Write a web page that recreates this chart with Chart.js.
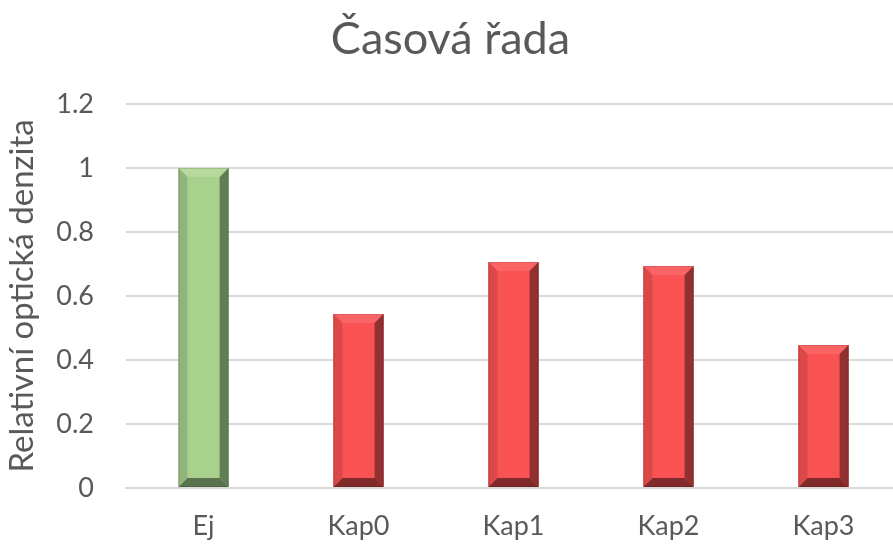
<!DOCTYPE html>
<html>
<head>
<meta charset="utf-8">
<script src="https://cdn.jsdelivr.net/npm/chart.js@4"></script>
<style>
  html, body { margin: 0; padding: 0; background: #fff; overflow: hidden; }
  #wrap { width: 906px; height: 544px; }
</style>
</head>
<body>
<div id="wrap"><canvas id="chart" width="906" height="544"></canvas></div>
<script>
const categories = ['Ej', 'Kap0', 'Kap1', 'Kap2', 'Kap3'];
const values = [1.0, 0.544, 0.706, 0.694, 0.447];
const yTicks = [0, 0.2, 0.4, 0.6, 0.8, 1, 1.2];

const green = { face: '#a9d18e', left: '#92b47c', right: '#617d53', top: '#b6da9c', bottom: '#58734c' };
const red = { face: '#f85252', left: '#da4848', right: '#903030', top: '#fa6464', bottom: '#812a2a' };
const palette = categories.map((c, i) => i === 0 ? green : red);

// bevel look like the office chart
const bevelPlugin = {
    id: 'bevel',
    afterDatasetsDraw(chart) {
        const ctx = chart.ctx;
        const meta = chart.getDatasetMeta(0);
        meta.data.forEach((bar, i) => {
            const p = palette[i];
            const l = bar.x - bar.width / 2, r = bar.x + bar.width / 2;
            const t = bar.y, b = bar.base;
            const d = 9;
            const poly = (pts, col) => {
                ctx.beginPath();
                ctx.moveTo(pts[0][0], pts[0][1]);
                pts.slice(1).forEach(q => ctx.lineTo(q[0], q[1]));
                ctx.closePath();
                ctx.fillStyle = col;
                ctx.fill();
            };
            ctx.save();
            poly([[l, t], [r, t], [r - d, t + d], [l + d, t + d]], p.top);
            poly([[l, b], [r, b], [r - d, b - d], [l + d, b - d]], p.bottom);
            poly([[l, t], [l + d, t + d], [l + d, b - d], [l, b]], p.left);
            poly([[r, t], [r - d, t + d], [r - d, b - d], [r, b]], p.right);
            ctx.strokeStyle = 'rgba(0,0,0,0.12)';
            ctx.lineWidth = 1;
            ctx.strokeRect(l + 0.5, t + 0.5, bar.width - 1, b - t - 1);
            ctx.restore();
        });
    }
};

new Chart(document.getElementById('chart'), {
    type: 'bar',
    data: {
        labels: categories,
        datasets: [{
            data: values,
            backgroundColor: palette.map(p => p.face),
            borderWidth: 0,
            barPercentage: 0.54,
            categoryPercentage: 0.6
        }]
    },
    options: {
        responsive: false,
        animation: false,
        layout: { padding: { left: 0, right: 5, top: 4, bottom: 0 } },
        plugins: {
            legend: { display: false },
            tooltip: { enabled: false },
            title: {
                display: true,
                text: 'Časová řada',
                color: '#595959',
                font: { family: 'Lato', size: 45, weight: 'normal' },
                padding: { top: 8, bottom: 38 }
            }
        },
        scales: {
            x: {
                grid: { display: false, drawTicks: false },
                border: { display: true, color: '#d9d9d9', width: 2 },
                ticks: { color: '#595959', font: { family: 'Lato', size: 27 }, padding: 22 },
                afterFit(axis) { axis.height = 56; }
            },
            y: {
                min: 0,
                max: 1.2,
                afterBuildTicks(axis) { axis.ticks = yTicks.map(v => ({ value: v })); },
                afterFit(axis) { axis.width = 126; },
                grid: { color: '#d9d9d9', lineWidth: 2, drawTicks: false },
                border: { display: false },
                ticks: {
                    color: '#595959',
                    font: { family: 'Lato', size: 27 },
                    padding: 32,
                    callback: v => String(v)
                },
                title: {
                    display: true,
                    text: 'Relativní optická denzita',
                    color: '#595959',
                    font: { family: 'Lato', size: 33, weight: 'normal', lineHeight: 1.1 },
                    padding: { top: 4, bottom: 0 }
                }
            }
        }
    },
    plugins: [bevelPlugin]
});
</script>
</body>
</html>
